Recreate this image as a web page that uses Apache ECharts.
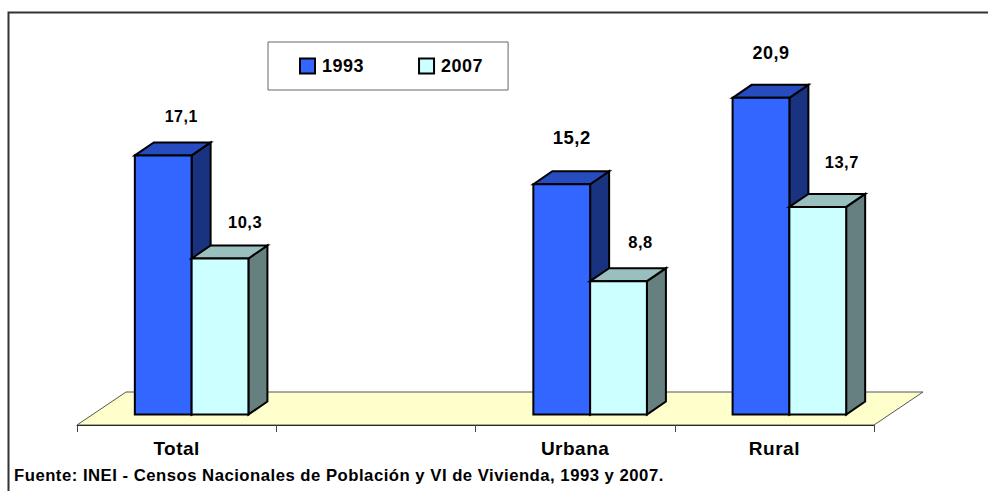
<!DOCTYPE html>
<html>
<head>
<meta charset="utf-8">
<style>
  html, body { margin: 0; padding: 0; background: #fff; }
  #chart { width: 988px; height: 491px; }
  #chart text { letter-spacing: 0.5px; }
</style>
<script src="https://cdn.jsdelivr.net/npm/echarts@6/dist/echarts.min.js"></script>
</head>
<body>
<div id="chart"></div>
<script>
const categories = ['Total', '', 'Urbana', 'Rural'];
const years = ['1993', '2007'];
const values1993 = [17.1, null, 15.2, 20.9];
const values2007 = [10.3, null, 8.8, 13.7];
const source = 'Fuente: INEI - Censos Nacionales de Población y VI de Vivienda, 1993 y 2007.';

// the labels were placed by hand in the original, so each has its own nudge
const labelNudge1993 = [[18, -39], null, [10, -47], [10, -45]];
const labelNudge2007 = [[25, -36], null, [22, -39], [24, -45]];
const labelSize1993 = [16, null, 18.5, 18];
const labelSize2007 = [16.5, null, 16.5, 16.5];

const FONT = '"Liberation Sans", Arial, sans-serif';
const DEPTH_X = 19, DEPTH_Y = 13;
const FLOOR_X = 49, FLOOR_Y = 33;
const BAR_RATIO = 0.285;
// bars stand in the middle of the floor, not on the axis line
const SHIFT_X = 15, SHIFT_Y = 10.5;

function poly(points, fill) {
  return {
    type: 'polygon',
    shape: { points: points },
    style: { fill: fill, stroke: '#000', lineWidth: 2, lineJoin: 'miter' }
  };
}

function barRenderer(side, colors, nudges, sizes) {
  return function (params, api) {
    const idx = params.dataIndex;
    const val = api.value(1);
    if (val == null || isNaN(val)) return null;
    const top = api.coord([api.value(0), val]);
    const base = api.coord([api.value(0), 0]);
    const w = api.size([1, 0])[0] * BAR_RATIO;
    const x0 = top[0] + SHIFT_X + (side === 0 ? -w : 0);
    const x1 = x0 + w;
    const yT = top[1] - SHIFT_Y;
    const yB = base[1] - SHIFT_Y;
    const dx = DEPTH_X, dy = DEPTH_Y;
    return {
      type: 'group',
      children: [
        poly([[x1, yT], [x1 + dx, yT - dy], [x1 + dx, yB - dy], [x1, yB]], colors.side),
        poly([[x0, yT], [x0 + dx, yT - dy], [x1 + dx, yT - dy], [x1, yT]], colors.top),
        poly([[x0, yT], [x1, yT], [x1, yB], [x0, yB]], colors.front),
        {
          type: 'text',
          style: {
            x: (x0 + x1) / 2 + nudges[idx][0],
            y: yT + nudges[idx][1],
            text: String(val).replace('.', ','),
            font: 'bold ' + sizes[idx] + 'px ' + FONT,
            fill: '#000',
            align: 'center',
            verticalAlign: 'middle'
          }
        }
      ]
    };
  };
}

function floorRenderer(params, api) {
  const c = params.coordSys;
  const yF = c.y + c.height;
  return {
    type: 'polygon',
    shape: {
      points: [[c.x, yF], [c.x + FLOOR_X, yF - FLOOR_Y], [c.x + c.width + FLOOR_X, yF - FLOOR_Y], [c.x + c.width, yF]]
    },
    style: { fill: '#FFFFCC', stroke: '#555', lineWidth: 1 }
  };
}

function rows(values) {
  return values.map(function (v, i) { return [i, v]; });
}

const chart = echarts.init(document.getElementById('chart'), null, { renderer: 'svg' });
chart.setOption({
  animation: false,
  backgroundColor: '#fff',
  title: {
    text: source,
    left: 14,
    top: 467,
    padding: 0,
    textStyle: { fontFamily: FONT, fontWeight: 'bold', fontSize: 16.7, color: '#000' }
  },
  legend: {
    data: years,
    icon: 'rect',
    left: 268,
    top: 42,
    width: 243,
    padding: [15, 27, 15, 31],
    itemWidth: 15,
    itemHeight: 15,
    itemGap: 56,
    borderColor: '#666',
    borderWidth: 1,
    selectedMode: false,
    textStyle: { fontFamily: FONT, fontWeight: 'bold', fontSize: 18, color: '#000', padding: [0, 0, 0, 2] }
  },
  grid: { left: 77, right: 114, top: 46.25, bottom: 66 },
  xAxis: {
    type: 'category',
    data: categories,
    boundaryGap: true,
    axisLine: { show: true, lineStyle: { color: '#000', width: 1 } },
    axisTick: { show: true, alignWithLabel: false, length: 7, lineStyle: { color: '#444' } },
    axisLabel: { interval: 0, margin: 14, fontFamily: FONT, fontWeight: 'bold', fontSize: 19, color: '#000' }
  },
  yAxis: { type: 'value', min: 0, max: 25, show: false },
  series: [
    {
      type: 'custom',
      name: 'floor',
      coordinateSystem: 'cartesian2d',
      renderItem: floorRenderer,
      data: [[0, 0]],
      encode: { x: 0, y: 1 },
      silent: true,
      z: 1
    },
    {
      type: 'custom',
      name: years[0],
      coordinateSystem: 'cartesian2d',
      renderItem: barRenderer(0, { front: '#3366FF', top: '#264CBF', side: '#1A3380' }, labelNudge1993, labelSize1993),
      itemStyle: { color: '#3366FF', borderColor: '#000', borderWidth: 2 },
      data: rows(values1993),
      encode: { x: 0, y: 1 },
      z: 2
    },
    {
      type: 'custom',
      name: years[1],
      coordinateSystem: 'cartesian2d',
      renderItem: barRenderer(1, { front: '#CCFFFF', top: '#99BFBF', side: '#668080' }, labelNudge2007, labelSize2007),
      itemStyle: { color: '#CCFFFF', borderColor: '#000', borderWidth: 2 },
      data: rows(values2007),
      encode: { x: 0, y: 1 },
      z: 3
    }
  ],
  graphic: [
    {
      type: 'polyline',
      silent: true,
      shape: { points: [[8.5, 491], [8.5, 12.5], [988, 12.5]] },
      style: { fill: null, stroke: '#333', lineWidth: 2 }
    }
  ]
});
window.addEventListener('resize', function () {
  chart.resize();
});
</script>
</body>
</html>
